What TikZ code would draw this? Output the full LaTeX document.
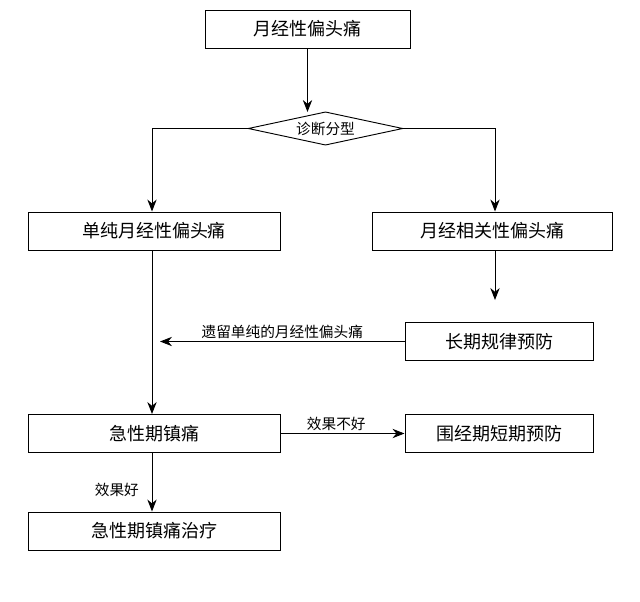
\documentclass[tikz,border=0pt]{standalone}
\usepackage{fontspec}
\setmainfont{Noto Sans CJK SC}
\usetikzlibrary{shapes.geometric,arrows.meta}
\begin{document}
\begin{tikzpicture}[x=0.75pt,y=-0.75pt,
  box/.style={draw,line width=0.75pt,minimum height=28.5pt,inner sep=0pt,font=\fontsize{13.5}{15}\selectfont},
  lab/.style={font=\fontsize{11}{12}\selectfont,inner sep=1.5pt},
  arr/.style={-{Stealth[length=9pt,width=7pt]},line width=0.7pt}]
\useasboundingbox (0,0) rectangle (640,601);
\node[box,minimum width=153.75pt] (top) at (307.5,29) {月经性偏头痛};
\node[draw,diamond,aspect=4.7,line width=0.7pt,inner sep=0.5pt,minimum width=116pt,minimum height=25pt,font=\fontsize{11}{12}\selectfont] (dia) at (325.5,128.5) {诊断分型};
\coordinate (dt) at (307.5,112);
\node[box,minimum width=189pt] (l1) at (154,231) {单纯月经性偏头痛};
\node[box,minimum width=180pt] (r1) at (492,231) {月经相关性偏头痛};
\node[box,minimum width=141pt] (r2) at (499,341.5) {长期规律预防};
\node[box,minimum width=189pt] (l2) at (154,433.5) {急性期镇痛};
\node[box,minimum width=141pt] (r3) at (499,433.5) {围经期短期预防};
\node[box,minimum width=189pt] (l3) at (154,531) {急性期镇痛治疗};
\coordinate (lm) at (160,341.5);
\draw[arr] (top) -- (dt);
\draw[arr] (dia.west) -| (l1.north -| 152,0);
\draw[arr] (dia.east) -| (r1.north -| 495,0);
\draw[arr] (r1.south -| 495,0) -- (495,300);
\draw[arr] (r2.west) -- node[lab,above]{遗留单纯的月经性偏头痛} (lm);
\draw[arr] (l1.south -| 152,0) -- (l2.north -| 152,0);
\draw[arr] (l2.east) -- node[lab,above,pos=0.45]{效果不好} (r3.west);
\draw[arr] (l2.south -| 152,0) -- node[lab,left,xshift=-8pt,yshift=-6pt]{效果好} (l3.north -| 152,0);
\end{tikzpicture}
\end{document}
